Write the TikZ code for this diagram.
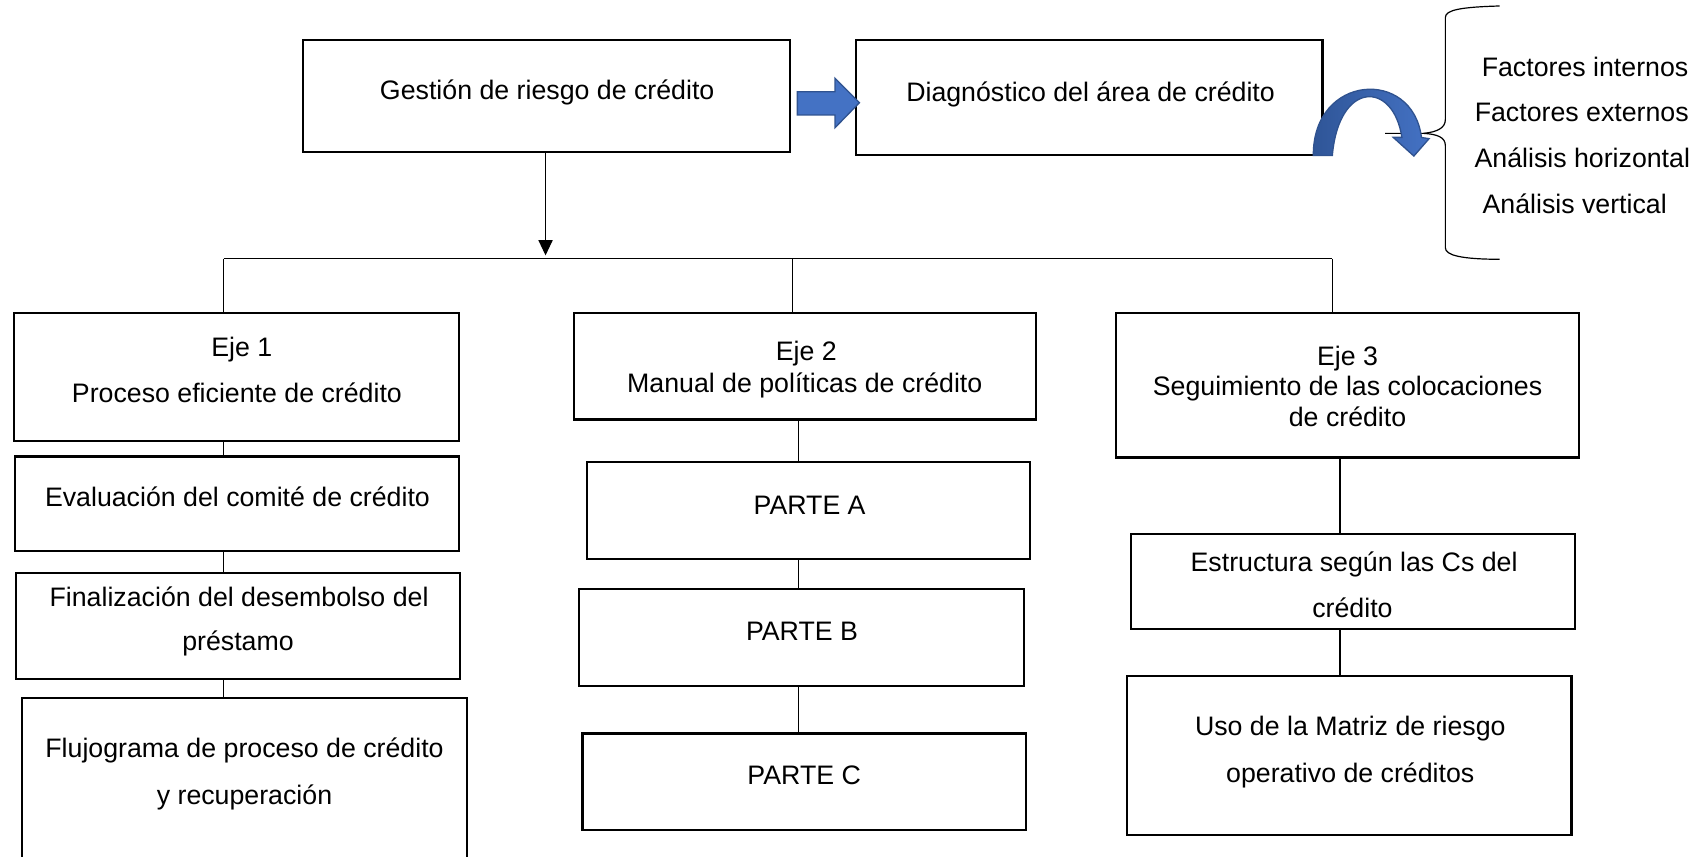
\documentclass[tikz,border=0pt]{standalone}
\usepackage{fontspec}
\setmainfont{Liberation Sans}
\usetikzlibrary{arrows.meta}
\definecolor{arrblue}{HTML}{4472C4}
\definecolor{arrdark}{HTML}{2F5597}
\definecolor{arrborder}{HTML}{2F528F}
\begin{document}
\begin{tikzpicture}[x=0.5pt,y=-0.5pt,
  box/.style={draw=black, line width=1pt, inner sep=0pt, rectangle},
  txt/.style={anchor=base, inner sep=0pt, font=\fontsize{12.3}{14}\selectfont},
  link/.style={draw=black, line width=0.55pt},
  bluearrow/.style={draw=arrborder, line width=0.6pt, fill=arrblue},
  bracestyle/.style={draw=black, line width=0.55pt}]
\clip (0,0) rectangle (1568,788);
\fill[white] (0,0) rectangle (1568,788);
% boxes
\node[box, minimum width=224pt, minimum height=51.5pt] (gest) at (503,88.5) {};
\node[box, minimum width=214.5pt, minimum height=53pt] (diag) at (1002.5,90) {};
\node[box, minimum width=204.5pt, minimum height=59pt] (eje1) at (217.5,347) {};
\node[box, minimum width=204pt, minimum height=43.5pt] (eval) at (218,463.5) {};
\node[box, minimum width=204pt, minimum height=49pt] (fin) at (219,576) {};
\node[box, minimum width=205pt, minimum height=79pt] (fluj) at (225,721) {};
\node[box, minimum width=212.5pt, minimum height=49pt] (eje2) at (740.5,337) {};
\node[box, minimum width=204pt, minimum height=44.5pt] (pa) at (744,469.5) {};
\node[box, minimum width=204.5pt, minimum height=44.5pt] (pb) at (737.5,586.5) {};
\node[box, minimum width=204pt, minimum height=44.5pt] (pc) at (740,719.5) {};
\node[box, minimum width=213pt, minimum height=66.5pt] (eje3) at (1240,354.5) {};
\node[box, minimum width=204pt, minimum height=44pt] (est) at (1245,535) {};
\node[box, minimum width=204.5pt, minimum height=73pt] (uso) at (1241.5,695) {};
% texts
\node[txt] (gestt) at (503.5,92) {Gestión de riesgo de crédito};
\node[txt] (diagt) at (1003.5,93) {Diagnóstico del área de crédito};
\node[txt] (eje1a) at (222.5,328) {Eje 1};
\node[txt] (eje1b) at (218,370) {Proceso eficiente de crédito};
\node[txt] (evalt) at (218.5,466) {Evaluación del comité de crédito};
\node[txt] (fina) at (220,558) {Finalización del desembolso del};
\node[txt] (finb) at (219,599) {préstamo};
\node[txt] (fluja) at (225,697) {Flujograma de proceso de crédito};
\node[txt] (flujb) at (225,740) {y recuperación};
\node[txt] (eje2a) at (742,332) {Eje 2};
\node[txt] (eje2b) at (740.5,361) {Manual de políticas de crédito};
\node[txt] (pat) at (745,473) {PARTE A};
\node[txt] (pbt) at (738,589) {PARTE B};
\node[txt] (pct) at (740,722) {PARTE C};
\node[txt] (eje3a) at (1240,336) {Eje 3};
\node[txt] (eje3b) at (1240,364) {Seguimiento de las colocaciones};
\node[txt] (eje3c) at (1240,392) {de crédito};
\node[txt] (esta) at (1246,526) {Estructura según las Cs del};
\node[txt] (estb) at (1244.5,568) {crédito};
\node[txt] (usoa) at (1242.5,677) {Uso de la Matriz de riesgo};
\node[txt] (usob) at (1242.5,720) {operativo de créditos};
\node[txt] (f1) at (1458.5,70) {Factores internos};
\node[txt] (f2) at (1455.5,112) {Factores externos};
\node[txt] (f3) at (1456,154) {Análisis horizontal};
\node[txt] (f4) at (1449,196) {Análisis vertical};
% connector coordinates
\coordinate (arrtip) at (502,235);
\coordinate (busL) at (206,238);
\coordinate (busM) at (729,238);
\coordinate (busR) at (1226,238);
\coordinate (k1) at (206,0);
\coordinate (k2) at (735,0);
\coordinate (k3) at (1233,0);
% main arrow and bus
\draw[link, -{Triangle[length=7pt,width=6.5pt]}] (gest.south -| arrtip) -- (arrtip);
\draw[link] (busL) -- (busR);
\draw[link] (busL) -- (eje1.north -| busL);
\draw[link] (busM) -- (eje2.north -| busM);
\draw[link] (busR) -- (eje3.north -| busR);
% column connectors
\draw[link] (eje1.south -| k1) -- (eval.north -| k1);
\draw[link] (eval.south -| k1) -- (fin.north -| k1);
\draw[link] (fin.south -| k1) -- (fluj.north -| k1);
\draw[link] (eje2.south -| k2) -- (pa.north -| k2);
\draw[link] (pa.south -| k2) -- (pb.north -| k2);
\draw[link] (pb.south -| k2) -- (pc.north -| k2);
\draw[link] (eje3.south -| k3) -- (est.north -| k3);
\draw[link] (est.south -| k3) -- (uso.north -| k3);
% blue block arrow gest -> diag
\path[bluearrow] (733.7,84.4) -- (768.4,84.4) -- (768.4,72) -- (790.8,94.5) -- (768.4,117.5) -- (768.4,105.8) -- (733.7,105.8) -- cycle;
% brace
\path[bracestyle] (1380,5.5) .. controls (1345,6.5) and (1330,9) .. (1330,16)
  -- (1330,110) .. controls (1330,118) and (1322,121.5) .. (1310,122.7) -- (1274.5,122.7);
\path[bracestyle] (1310,122.7) .. controls (1322,123.5) and (1330,126) .. (1330,134)
  -- (1330,228) .. controls (1330,235) and (1345,238.5) .. (1380,238.6);
% curved blue arrow
\path[draw=arrborder, line width=0.6pt, left color=arrdark, right color=arrblue]
  (1208.5,143) .. controls (1208,68) and (1300,62) .. (1308,126.5)
  -- (1315,127.6) -- (1301,143.6) -- (1282,126.4) -- (1290,126.4)
  .. controls (1282,74) and (1232,74) .. (1226,143) -- cycle;
\end{tikzpicture}
\end{document}
